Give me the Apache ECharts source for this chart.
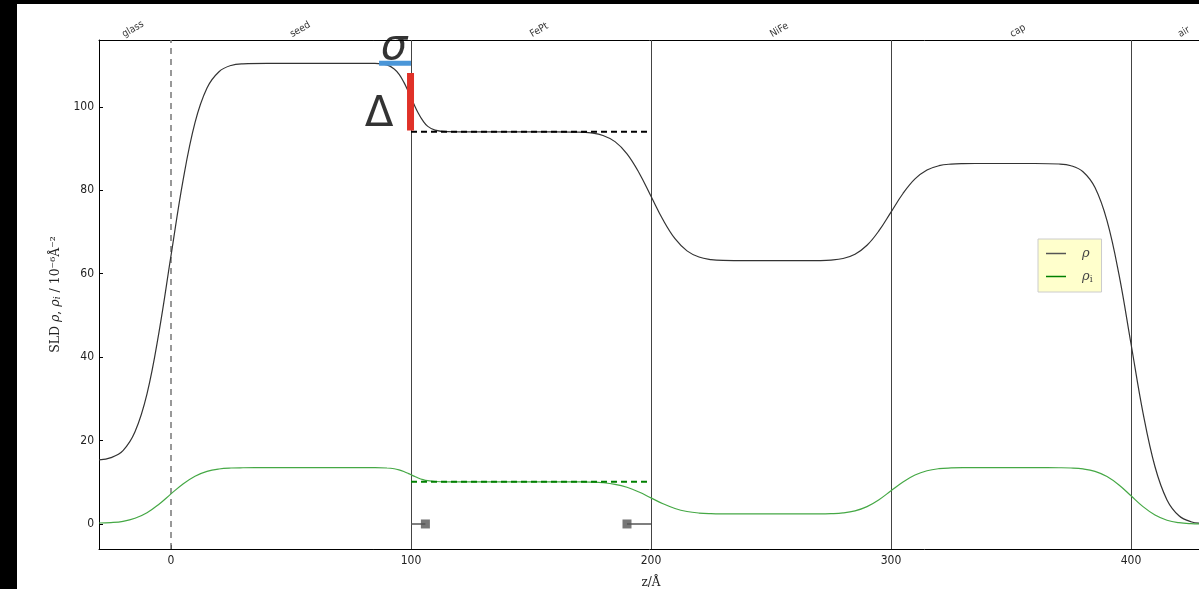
<!DOCTYPE html>
<html><head><meta charset="utf-8">
<script src="https://cdn.jsdelivr.net/npm/echarts@6/dist/echarts.min.js"></script>
<style>
html,body{margin:0;padding:0;background:#000;width:1199px;height:589px;overflow:hidden}
#chart{position:absolute;left:17px;top:4px;width:1182px;height:585px;background:#fff}
</style></head><body><div id="chart"></div>
<script>
const zValues = [-30,-25,-20,-15,-10,-5,0,5,10,15,20,25,30,40,50,60,70,80,85,90,93,95,97,99,100,101,103,105,107,110,115,120,130,140,150,160,170,175,180,185,190,195,200,205,210,215,220,225,230,240,250,260,270,275,280,285,290,295,300,305,310,315,320,325,330,340,350,360,370,375,380,385,390,395,400,405,410,415,420,425,430];
const rhoValues = [15.35,15.9,17.6,22.1,31.2,46.0,64.3,82.3,96.2,104.5,108.4,109.9,110.3,110.4,110.4,110.4,110.4,110.4,110.38,110.03,109.07,107.8,105.9,103.5,102.2,100.9,98.5,96.6,95.3,94.4,94.02,94.0,94.0,94.0,94.0,94.0,93.94,93.73,93.12,91.64,88.73,84.2,78.55,72.9,68.37,65.46,63.98,63.37,63.16,63.1,63.1,63.1,63.13,63.24,63.63,64.66,66.8,70.29,74.75,79.21,82.7,84.84,85.87,86.26,86.37,86.4,86.4,86.4,86.28,85.86,84.43,80.63,72.69,59.75,43.2,26.65,13.71,5.77,1.97,0.54,0.12];
const rhoImagValues = [0.23,0.34,0.64,1.36,2.69,4.74,7.21,9.59,11.45,12.61,13.18,13.41,13.47,13.5,13.5,13.5,13.5,13.5,13.5,13.42,13.23,12.96,12.57,12.07,11.8,11.53,11.03,10.64,10.38,10.18,10.1,10.1,10.1,10.1,10.1,10.1,10.08,10.03,9.88,9.51,8.79,7.66,6.25,4.84,3.71,2.99,2.62,2.47,2.42,2.4,2.4,2.4,2.41,2.47,2.65,3.14,4.16,5.82,7.95,10.08,11.74,12.76,13.25,13.43,13.49,13.5,13.5,13.5,13.48,13.42,13.19,12.6,11.36,9.34,6.75,4.16,2.14,0.9,0.31,0.08,0.02];
const layerNames = ['glass','seed','FePt','NiFe','cap','air'];
const layerLabelZ = [-20,50,150,250,350,420];
const xTickValues = [0,100,200,300,400];
const yTickValues = [0,20,40,60,80,100];
const substrateZ = [0];
const interfaceZ = [100,200,300,400];
const fePtRange = [100,200];
const fePtRho = 94.0;
const fePtRhoImag = 10.1;
const markerAnchorZ = [100,200];
const markerEndZ = [106,190];
const markerLevel = 0;
const sigmaRange = [86.7,100];
const sigmaLevel = 110.4;
const deltaZ = 99.8;
const deltaRange = [94.3,108.1];
const annotationText = ['σ','Δ'];
const annotationZ = [92.9,86.7];
const annotationY = [114.1,98.0];

const zip = (xs, ys) => xs.map((x, i) => [x, ys[i]]);
const tickFont = "'DejaVu Sans Condensed','DejaVu Sans',sans-serif";
const serif = "'DejaVu Serif','Liberation Serif',serif";

const chart = echarts.init(document.getElementById('chart'), null, {renderer:'canvas'});

const vLines = substrateZ.map(z => ({xAxis:z, lineStyle:{color:'#777', width:1.5, type:[6,5]}}))
  .concat(interfaceZ.map(z => ({xAxis:z, lineStyle:{color:'#444', width:1, type:'solid'}})));

const markerSegments = markerAnchorZ.map((a, i) => ({
  type:'line', data:[[a, markerLevel],[markerEndZ[i], markerLevel]], showSymbol:false, symbol:'none',
  lineStyle:{color:'#555', width:1.5}, silent:true, z:3
}));

const option = {
  animation:false,
  backgroundColor:'#fff',
  grid:{left:82, top:36, width:1104, height:509, containLabel:false, outerBoundsMode:'none'},
  legend:{
    data:[{name:'ρ', icon:'rect', itemStyle:{color:'#555'}},{name:'ρi', icon:'rect', itemStyle:{color:'#008000'}}],
    orient:'vertical', left:1021, top:235,
    backgroundColor:'#ffffcc', borderColor:'#cccccc', borderWidth:1,
    padding:[8,9,8,8], itemWidth:20, itemHeight:1.5, itemGap:10,
    formatter: n => n === 'ρi' ? '{it|ρ}{sub|i}' : '{it|ρ}',
    textStyle:{color:'#444', padding:[0,0,0,11], rich:{
      it:{fontFamily:serif, fontStyle:'italic', fontSize:13, color:'#444', lineHeight:15},
      sub:{fontFamily:serif, fontSize:9, color:'#444', padding:[6,0,0,0]}
    }}
  },
  xAxis:[{
    type:'value', min:-30, max:430, position:'bottom',
    name:'z/Å', nameLocation:'middle', nameGap:28,
    nameTextStyle:{fontFamily:serif, fontSize:12, color:'#222'},
    axisLine:{show:true, onZero:false, lineStyle:{color:'#000', width:1}},
    axisTick:{show:true, inside:true, length:4, customValues:xTickValues, lineStyle:{color:'#000'}},
    axisLabel:{customValues:xTickValues, margin:6, fontSize:12, fontFamily:tickFont, color:'#222'},
    splitLine:{show:false}
  },{
    type:'value', min:-30, max:430, position:'top',
    axisLine:{show:true, onZero:false, lineStyle:{color:'#000', width:1}},
    axisTick:{show:false},
    axisLabel:{customValues:layerLabelZ, formatter: v => layerNames[layerLabelZ.indexOf(v)] || '',
      rotate:-30, margin:5, fontSize:10, fontFamily:tickFont, color:'#333'},
    splitLine:{show:false}
  }],
  yAxis:{
    type:'value', min:-6, max:116,
    name:'SLD {it|ρ}, {it|ρ}{sub|i} / 10⁻⁶Å⁻²', nameLocation:'middle', nameGap:29, nameRotate:90,
    nameTextStyle:{fontFamily:serif, fontSize:12.5, color:'#222', rich:{
      it:{fontFamily:serif, fontStyle:'italic', fontSize:12.5, color:'#222'},
      sub:{fontFamily:serif, fontStyle:'italic', fontSize:9, color:'#222', padding:[5,0,0,0]}
    }},
    axisLine:{show:true, onZero:false, lineStyle:{color:'#000', width:1}},
    axisTick:{show:true, inside:true, length:4, customValues:yTickValues, lineStyle:{color:'#000'}},
    axisLabel:{customValues:yTickValues, margin:5, fontSize:12, fontFamily:tickFont, color:'#222'},
    splitLine:{show:false}
  },
  series:[
    {
      type:'line', name:'ρ', data:zip(zValues, rhoValues), smooth:0.4,
      showSymbol:false, symbol:'none', color:'#333', lineStyle:{color:'#333', width:1.2}, z:4,
      markLine:{silent:true, symbol:'none', label:{show:false}, data:vLines, z:1}
    },
    {
      type:'line', name:'ρi', data:zip(zValues, rhoImagValues), smooth:0.4,
      showSymbol:false, symbol:'none', color:'#2f9a2f', lineStyle:{color:'#45a845', width:1.2}, z:4
    },
    {
      type:'line', data:[[fePtRange[0], fePtRho],[fePtRange[1], fePtRho]], showSymbol:false, symbol:'none',
      lineStyle:{color:'#000', width:2, type:[6,4]}, silent:true, z:5
    },
    {
      type:'line', data:[[fePtRange[0], fePtRhoImag],[fePtRange[1], fePtRhoImag]], showSymbol:false, symbol:'none',
      lineStyle:{color:'#008000', width:2, type:[6,4]}, silent:true, z:5
    },
    ...markerSegments,
    {
      type:'scatter', data:markerEndZ.map(z => [z, markerLevel]), symbol:'rect', symbolSize:9,
      itemStyle:{color:'#555'}, silent:true, z:6
    },
    {
      type:'line', data:[[sigmaRange[0], sigmaLevel],[sigmaRange[1], sigmaLevel]], showSymbol:false, symbol:'none',
      lineStyle:{color:'#4a96d8', width:5, cap:'butt'}, silent:true, z:7
    },
    {
      type:'line', data:[[deltaZ, deltaRange[0]],[deltaZ, deltaRange[1]]], showSymbol:false, symbol:'none',
      lineStyle:{color:'#e03128', width:7, cap:'butt'}, silent:true, z:7
    },
    {
      type:'scatter', data:zip(annotationZ, annotationY), symbolSize:0, silent:true, z:8,
      label:{show:true, position:'inside', formatter: p => annotationText[p.dataIndex],
        fontSize:42, fontFamily:"'DejaVu Sans',sans-serif", color:'#000'},
      labelLayout:{hideOverlap:false}
    }
  ]
};
option.series[option.series.length-1].data = zip(annotationZ, annotationY).map((d, i) => ({
  value:d, label:{fontStyle: i === 0 ? 'italic' : 'normal'}
}));
chart.setOption(option);
</script></body></html>
